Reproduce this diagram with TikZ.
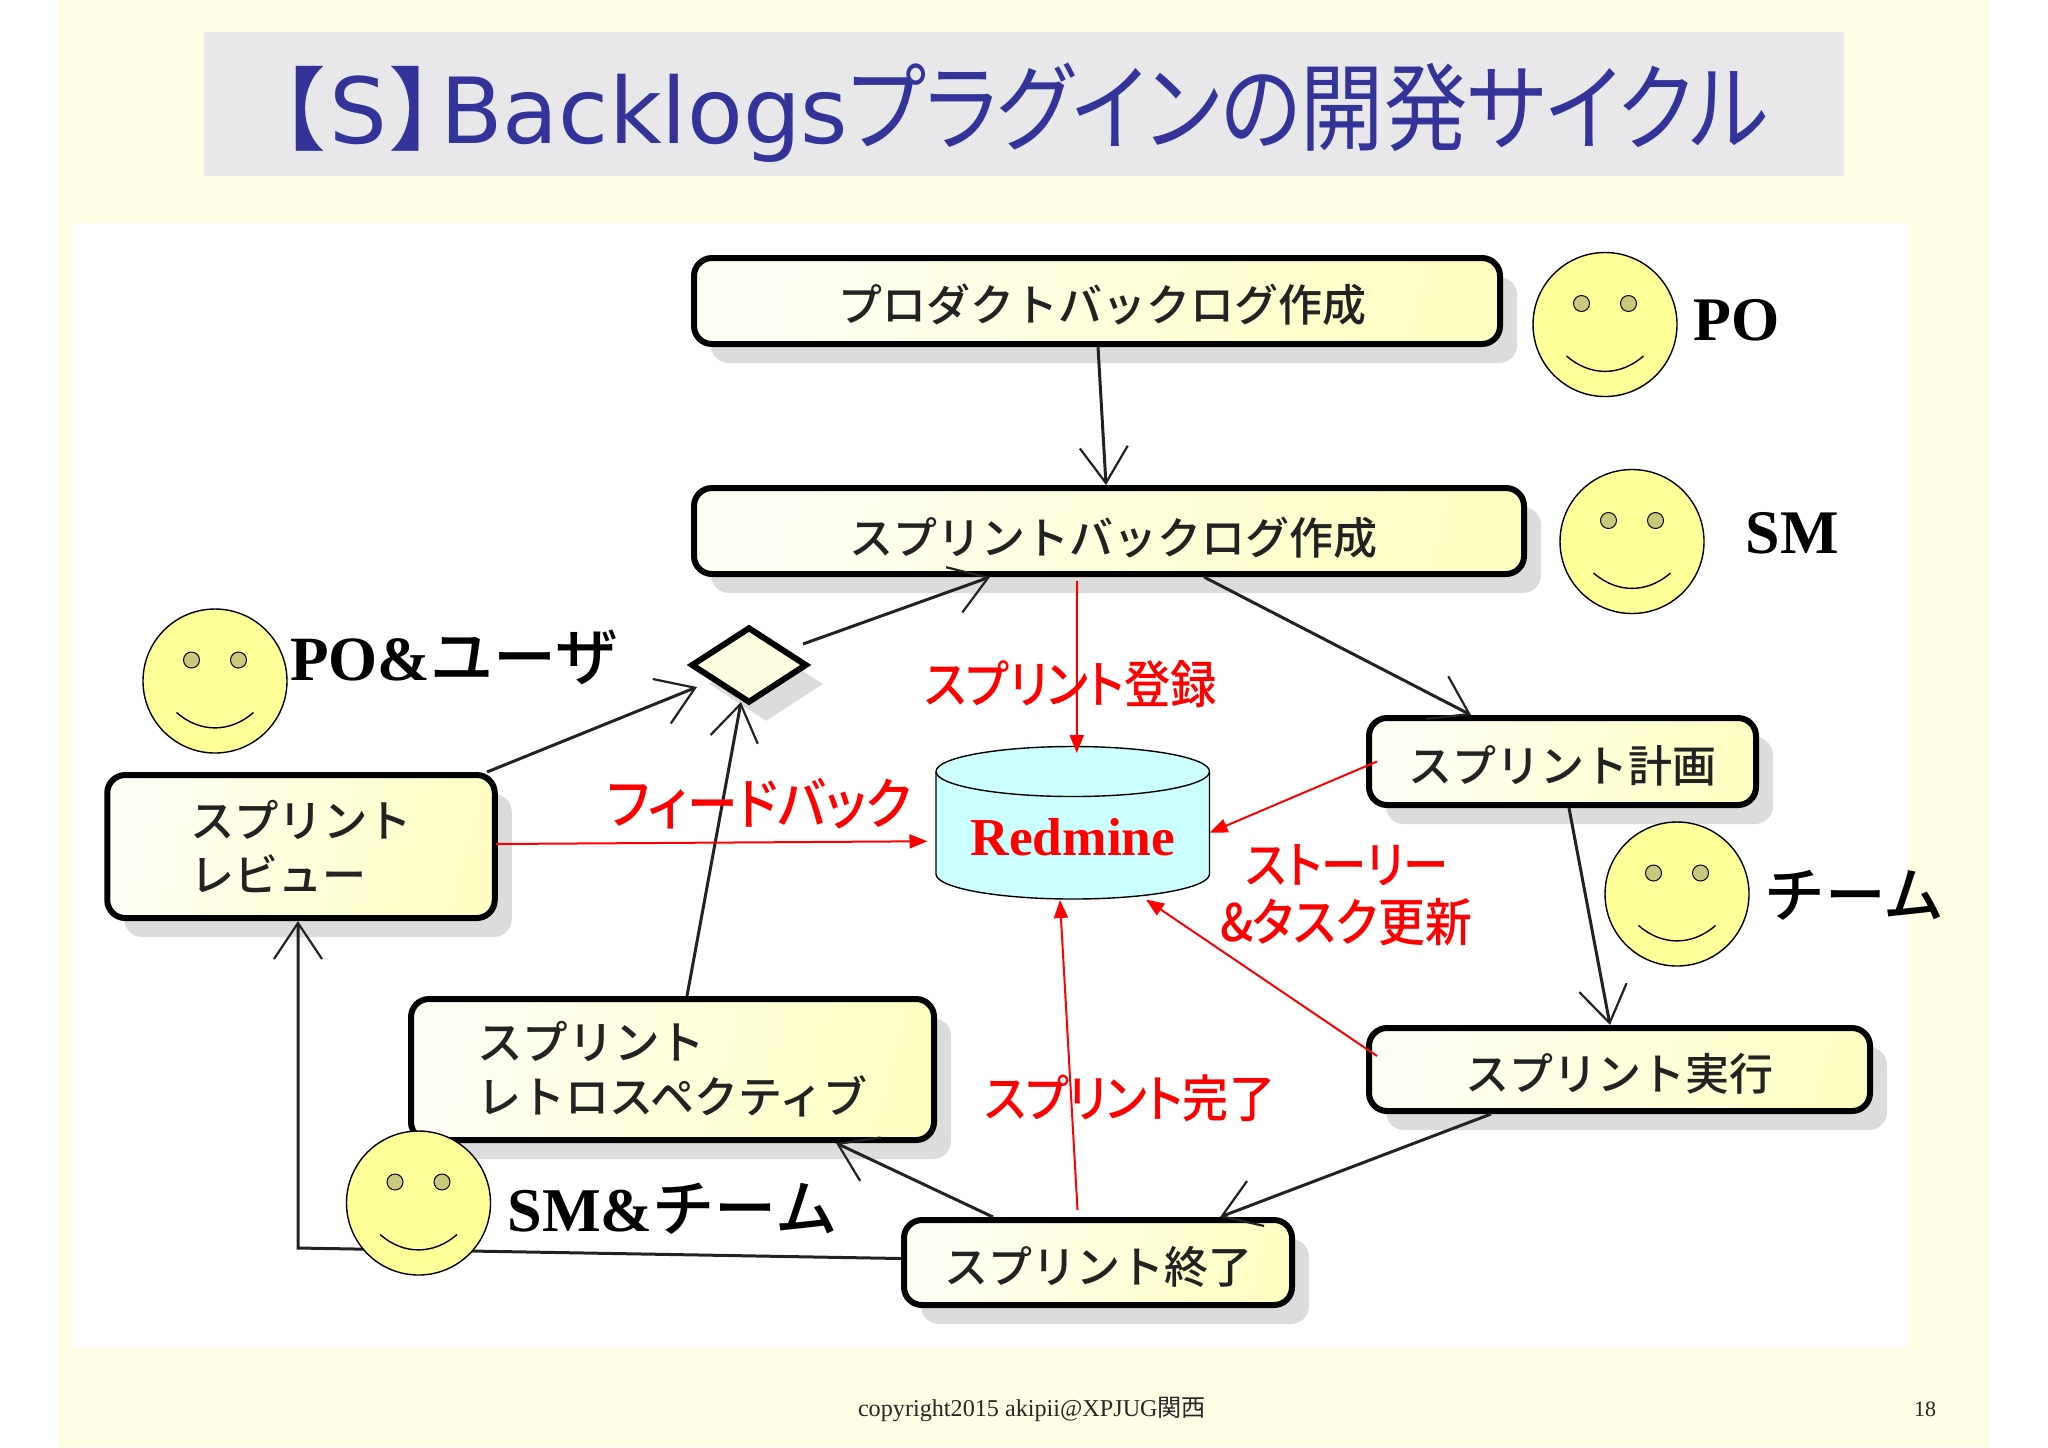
\documentclass[tikz,border=0pt]{standalone}
\usepackage{graphicx}
\usepackage{fontspec}
\setmainfont{Liberation Serif}
\newfontfamily\jp{Noto Sans CJK JP}
\newfontfamily\jpm{Noto Sans CJK JP Medium}
\newfontfamily\jpp[RawFeature=+palt]{Noto Sans CJK JP}
\newfontfamily\jpq[RawFeature=+palt]{Noto Sans CJK JP Medium}
\newfontfamily\dvs{DejaVu Sans}
\usetikzlibrary{arrows.meta,shadows,shapes.geometric}
\definecolor{slidebg}{HTML}{FFFDE3}
\definecolor{titlebg}{HTML}{E8E8EA}
\definecolor{titlefg}{HTML}{333399}
\definecolor{shadowc}{HTML}{DCDCDC}
\definecolor{boxa}{HTML}{FFFFF6}
\definecolor{boxb}{HTML}{FFFFC4}
\definecolor{diac}{HTML}{FDFDE0}
\definecolor{facec}{HTML}{FFFF99}
\definecolor{eyec}{HTML}{C9C97E}
\definecolor{dbc}{HTML}{CCFFFF}
\definecolor{inkc}{HTML}{222222}
\newcommand{\fitw}[2]{\resizebox{#1}{!}{#2}}
\newcommand{\fitv}[2]{\scalebox{1}[1.1]{\resizebox{#1}{!}{#2}}}
\newcommand{\dn}[2]{\raisebox{-#1}[\height][\depth]{#2}}
\tikzset{
  x=0.5pt,y=-0.5pt,
  boxnode/.style={draw=black,line width=3pt,rounded corners=9pt,left color=boxa,right color=boxb,shading angle=75,
    drop shadow={shadow xshift=8.5pt,shadow yshift=-9.5pt,fill=shadowc,opacity=1},
    font=\jpm\fontsize{22}{27}\selectfont,text=inkc,align=left,inner sep=0pt},
  dia/.style={diamond,draw=black,line width=3pt,fill=diac,aspect=1.5,inner sep=0pt,minimum width=58pt,minimum height=38pt,
    drop shadow={shadow xshift=8.5pt,shadow yshift=-9.5pt,fill=shadowc,opacity=1}},
  blk/.style={draw=inkc,line width=1.5pt,-{Straight Barb[length=18pt,width=24pt,line width=1.1pt]}},
  redl/.style={draw=red,line width=1pt,-{Triangle[length=9pt,width=7pt,fill=red]}},
  facenode/.style={circle,draw=black,line width=0.7pt,fill=facec,minimum size=72pt,inner sep=0pt},
  eye/.style={draw=black,line width=0.5pt,fill=eyec},
  rlab/.style={text=red,font=\jpq\fontsize{22}{26}\selectfont,inner sep=0pt},
  klab/.style={text=black,font=\jpm\fontsize{30}{36}\selectfont,inner sep=0pt},
  foot/.style={text=black!85,font=\fontsize{11}{13}\selectfont,inner sep=0pt}
}
\newcommand{\myface}[3]{%
  \begin{scope}[shift={(#2,#3)}]
    \node[facenode] (#1) at (0,0) {};
    \filldraw[eye] (-23.5,-21) circle[radius=4pt];
    \filldraw[eye] (23.5,-21) circle[radius=4pt];
    \draw[black,line width=0.7pt] (-38.5,31.5) .. controls (-15,52) and (15,52) .. (38.5,31.5);
  \end{scope}}
\begin{document}
\begin{tikzpicture}
\useasboundingbox (0,0) rectangle (2048,1447);
\fill[white] (0,0) rectangle (2048,1447);
\fill[slidebg] (58,0) rectangle (1990,1447);
\fill[titlebg] (204,32) rectangle (1844,176);
\fill[white] (72,223) rectangle (1908,1347);
\node[inner sep=0pt,text=titlefg,anchor=base west] (title) at (288,143) {\fontsize{45.6}{56}\selectfont
  \makebox[76pt][r]{\jpp【\hspace{2.5pt}\dvs S\hspace{1.5pt}\jpp】\hspace{2pt}}\resizebox{204pt}{!}{\dvs Backlogs}\scalebox{1}[1.15]{\resizebox{460pt}{!}{\jpp プラグインの開発サイクル}}};

% activity boxes
\node[boxnode,minimum width=403pt,minimum height=43pt] (b1) at (1097,301) {\dn{2pt}{\hspace*{5pt}プロダクトバックログ作成}};
\node[boxnode,minimum width=415pt,minimum height=43pt] (b2) at (1109,531) {\dn{3.3pt}{\hspace*{4pt}スプリントバックログ作成}};
\node[boxnode,minimum width=193.5pt,minimum height=43.5pt] (b3) at (1562.5,761.5) {\dn{2pt}{スプリント計画}};
\node[boxnode,minimum width=250.5pt,minimum height=41.5pt] (b4) at (1619.5,1069.5) {\dn{2pt}{スプリント実行}};
\node[boxnode,minimum width=194pt,minimum height=42.5pt] (b5) at (1098,1262.5) {\dn{2pt}{スプリント終了}};
\node[boxnode,minimum width=261.5pt,minimum height=70.5pt] (b6) at (672.5,1069.5) {\fontsize{22.8}{27}\selectfont スプリント\\レトロスペクティブ};
\node[boxnode,minimum width=193.75pt,minimum height=71.5pt] (b7) at (301,846.5) {\fontsize{22.2}{27}\selectfont スプリント\\レビュー};
\node[dia] (dm) at (749,665) {};

% black flow connectors
\draw[blk] ([xshift=0.5pt]b1.south) -- ([xshift=-1.5pt]b2.north);
\draw[blk] ([xshift=47.5pt]b2.south) -- ([xshift=-45.75pt]b3.north);
\draw[blk] ([xshift=-3.5pt,yshift=10.5pt]dm.east) -- ([xshift=-59.5pt]b2.south);
\draw[blk] ([xshift=93pt]b7.north) -- ([xshift=4.5pt,yshift=-11pt]dm.west);
\draw[blk] ([xshift=7.25pt]b6.north) -- ([xshift=-4pt,yshift=2pt]dm.south);
\draw[blk] ([xshift=3.25pt]b3.south) -- ([xshift=-4.75pt]b4.north);
\draw[blk] ([xshift=-64.25pt]b4.south) -- ([xshift=61pt]b5.north);
\draw[blk] ([xshift=-52.5pt]b5.north) -- ([xshift=81.75pt]b6.south);
\coordinate (elbow) at (298,1248);
\draw[blk] ([yshift=2pt]b5.west) -- (elbow) -- ([xshift=-1.5pt]b7.south);

% actors
\myface{fpo}{1605}{324.5}
\myface{fsm}{1632}{541.5}
\myface{fpu}{215}{681}
\myface{fst}{418.5}{1203}
\myface{ftm}{1677}{894}
\node[inner sep=0pt,font=\bfseries\fontsize{31}{36}\selectfont] (lpo) at (1737,320) {PO};
\node[inner sep=0pt,font=\bfseries\fontsize{31}{36}\selectfont] (lsm) at (1792,533) {SM};
\node[klab] (lpu) at (454,657) {\fitw{164pt}{\rmfamily\bfseries PO\&\jpm\mdseries ユーザ}};
\node[klab] (lst) at (672.5,1209) {\fitw{165pt}{\rmfamily\bfseries SM\&\jpm\mdseries チーム}};
\node[klab] (ltm) at (1854.5,895) {\fitw{90pt}{チーム}};

% Redmine store
\node[minimum width=136.75pt,minimum height=76.25pt,inner sep=0pt,outer sep=0pt] (db) at (1072.75,822.25) {};
\filldraw[fill=dbc,draw=black,line width=0.7pt] (936,771.5) -- (936,874)
  arc[start angle=180,end angle=360,x radius=68.375pt,y radius=12.5pt] -- (1209.5,771.5)
  arc[start angle=0,end angle=180,x radius=68.375pt,y radius=12.5pt] -- cycle;
\draw[black,line width=0.7pt] (936,771.5) arc[start angle=180,end angle=360,x radius=68.375pt,y radius=12.5pt];
\node[inner sep=0pt,text=red,font=\bfseries\fontsize{26.7}{30}\selectfont] (dbl) at (1073,837) {Redmine};

% red update connectors
\draw[redl] ([xshift=-16pt,yshift=-2pt]b2.south) -- ([xshift=2pt,yshift=-3.5pt]db.north);
\draw[redl] ([xshift=-1pt,yshift=1.25pt]b7.east) -- ([xshift=-4.25pt,yshift=-9.5pt]db.west);
\draw[redl] ([xshift=5.5pt]b3.west) -- ([yshift=-5.25pt]db.east);
\draw[redl] ([xshift=5.5pt,yshift=6.75pt]b4.west) -- ([xshift=36.6pt,yshift=-0.5pt]db.south);
\draw[redl] ([xshift=-10.25pt,yshift=3.5pt]b5.north) -- ([xshift=-6.4pt,yshift=-0.75pt]db.south);

% red labels
\node[rlab] (r1) at (1071,684) {\fitv{146pt}{スプリント登録}};
\node[rlab] (r2) at (759,804) {\fitv{152pt}{フィードバック}};
\node[rlab] (r3) at (1347,865) {\fitv{101pt}{ストーリー}};
\node[rlab] (r4) at (1346,922) {\fitv{126pt}{\&タスク更新}};
\node[rlab] (r5) at (1130,1098) {\fitv{145pt}{スプリント完了}};

% footer
\node[foot] (f1) at (1032,1409) {\fitw{174pt}{copyright2015 akipii@XPJUG\jp 関西}};
\node[foot] (f2) at (1925,1409) {18};
\end{tikzpicture}
\end{document}
